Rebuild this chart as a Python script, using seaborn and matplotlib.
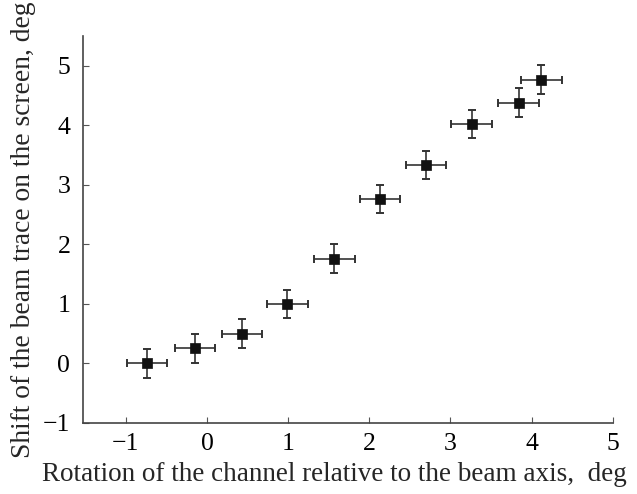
import matplotlib
matplotlib.use("Agg")
import matplotlib.pyplot as plt
import numpy as np
import pandas as pd
import seaborn as sns

# values
rotation = [-0.74, -0.15, 0.43, 0.99, 1.57, 2.13, 2.70, 3.26, 3.84, 4.12]
shift = [0.00, 0.25, 0.50, 1.00, 1.76, 2.76, 3.33, 4.02, 4.38, 4.77]
rotation_err = [0.25] * 10
shift_err = [0.24] * 10

sns.set_style("ticks")
plt.rcParams.update({
    'font.family': ['Liberation Serif', 'DejaVu Serif'],
    'font.size': 14,
    'xtick.direction': 'in',
    'ytick.direction': 'in',
    'xtick.major.size': 4,
    'ytick.major.size': 4,
    'xtick.color': '#555555',
    'ytick.color': '#555555',
    'xtick.labelcolor': 'black',
    'ytick.labelcolor': 'black',
})

df = pd.DataFrame({'rotation': rotation, 'shift': shift})

fig = plt.figure(figsize=(6.37, 4.94), dpi=100)
ax = fig.add_axes([0.130, 0.144, 0.832, 0.783])

ax.errorbar(rotation, shift, xerr=rotation_err, yerr=shift_err, fmt='none',
            ecolor='#333333', elinewidth=1.2, capsize=2.8, capthick=1.4, zorder=2)
sns.scatterplot(data=df, x='rotation', y='shift', marker='s', s=48,
                color='#111111', edgecolor='#111111', linewidth=0.5, ax=ax, zorder=3)

ax.set_xlim(-1.53, 5.0)
ax.set_ylim(-1, 5.5)
ax.set_xticks([-1, 0, 1, 2, 3, 4, 5])
ax.set_yticks([-1, 0, 1, 2, 3, 4, 5])
ax.set_xticklabels(['\u22121', '0', '1', '2', '3', '4', '5'])
ax.set_yticklabels(['\u22121', '0', '1', '2', '3', '4', '5'])
ax.tick_params(axis='x', labelsize=18.5, pad=7)
ax.tick_params(axis='y', labelsize=18.5, pad=9)

for side in ['top', 'right']:
    ax.spines[side].set_visible(False)
for side in ['left', 'bottom']:
    ax.spines[side].set_color('#444444')
    ax.spines[side].set_linewidth(1.2)

ax.set_xlabel('Rotation of the channel relative to the beam axis,  deg', fontsize=19.5, va='center')
ax.xaxis.set_label_coords(0.475, -0.134)
ax.set_ylabel('Shift of the beam trace on the screen, deg', fontsize=19.8, va='center')
ax.yaxis.set_label_coords(-0.111, 0.499)

fig.savefig('out.png', dpi=100)
